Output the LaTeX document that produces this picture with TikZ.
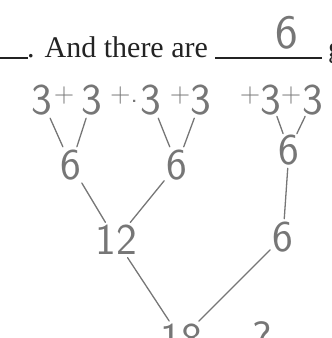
\documentclass[tikz,border=0pt]{standalone}
\usepackage{fontspec}
\setmainfont{Liberation Serif}
\usepackage{tikz}
\usetikzlibrary{positioning}
\usepackage{xcolor}
\definecolor{pencilgray}{RGB}{118, 118, 118}
\definecolor{printink}{RGB}{35, 35, 35}

\begin{document}
\begin{tikzpicture}[x=1pt, y=-1pt,
    hand/.style={pencilgray, inner sep=1pt,
      font=\sffamily\fontsize{44}{44}\selectfont},
    handplus/.style={pencilgray, inner sep=0pt,
      font=\sffamily\fontsize{28}{28}\selectfont},
    pencil/.style={pencilgray, line width=1.3pt, line cap=round,
      shorten <=2pt, shorten >=2pt}]
  \useasboundingbox (0,0) rectangle (332,338);
  \clip (0,0) rectangle (332,338);
  % printed line of the worksheet
  \draw[printink, line width=1.4pt] (0,58) -- (28,58);
  \node[printink, anchor=base west, inner sep=0pt,
        font=\fontsize{30}{30}\selectfont] (prompt) at (27,57) {. And there are};
  \draw[printink, line width=1.4pt] (215,58) -- (322,58);
  \node[printink, anchor=base west, inner sep=0pt,
        font=\fontsize{30}{30}\selectfont] (cut) at (328,57) {g};
  % answer on the blank
  \node[hand, font=\sffamily\fontsize{48}{48}\selectfont] (answer) at (287,33) {6};
  % the six threes
  \node[hand] (t1) at (42,100) {3};
  \node[handplus] (p1) at (64,96) {+};
  \node[hand] (t2) at (92,100) {3};
  \node[handplus] (p2) at (124,96) {+.};
  \node[hand] (t3) at (151,100) {3};
  \node[handplus] (p3) at (180,96) {+};
  \node[hand] (t4) at (201,100) {3};
  \node[handplus] (p4) at (250,96) {+};
  \node[hand] (t5) at (271,100) {3};
  \node[handplus] (p5) at (291,96) {+};
  \node[hand] (t6) at (313,100) {3};
  % first sums
  \node[hand] (s1) at (71,165) {6};
  \node[hand] (s2) at (177,165) {6};
  \node[hand] (s3) at (289,150) {6};
  \draw[pencil] (t1) -- (s1);
  \draw[pencil] (t2) -- (s1);
  \draw[pencil] (t3) -- (s2);
  \draw[pencil] (t4) -- (s2);
  \draw[pencil, shorten <=0pt, shorten >=0pt] (t5) -- (s3);
  \draw[pencil, shorten <=0pt, shorten >=0pt] (t6) -- (s3);
  % second sums
  \node[hand] (f1) at (116,240) {12};
  \node[hand] (f2) at (283,237) {6};
  \draw[pencil] (s1) -- (f1);
  \draw[pencil] (s2) -- (f1);
  \draw[pencil] (s3) -- (f2);
  % total
  \node[hand] (total) at (181,339) {18};
  \node[hand] (mark) at (262,337) {?};
  \draw[pencil] (f1) -- (total);
  \draw[pencil] (f2) -- (total);
\end{tikzpicture}
\end{document}
